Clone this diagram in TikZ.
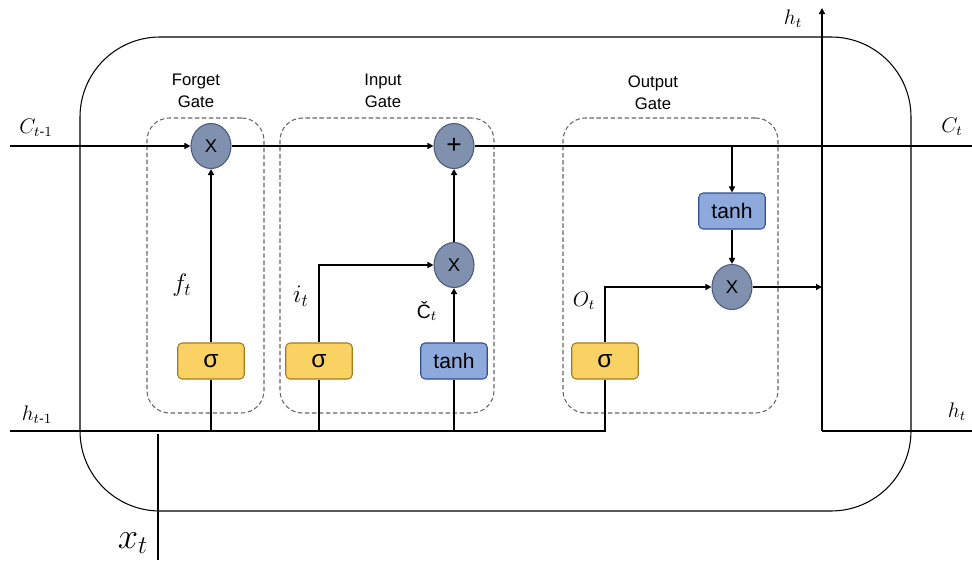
\documentclass[tikz,border=0pt]{standalone}
\usepackage{amsmath}
\usepackage{fontspec}
\setmainfont{Liberation Sans}
\usepackage{tikz}
\usetikzlibrary{
    arrows.meta,
    shapes.geometric
}
\definecolor{sigmafill}{HTML}{FAD264}
\definecolor{sigmadraw}{HTML}{A07C1C}
\definecolor{tanhfill}{HTML}{8EA9DB}
\definecolor{tanhdraw}{HTML}{2F4F8F}
\definecolor{opfill}{HTML}{7F91AF}
\definecolor{opdraw}{HTML}{4A5A7A}
\tikzset{
    wire/.style = {
        line width = 0.9pt
    },
    line/.style = {
        wire,
        ->,
        > = {
            Triangle[length=1.2mm, width=1.2mm]
        }
    },
    % Dashed gate outline:
    gate box/.style = {
        draw = black!60,
        dash pattern = on 2.5pt off 1.5pt,
        rounded corners = 0.45cm,
        minimum height = 5.9cm,
        line width = 0.6pt
    },
    % Gate title:
    gate label/.style = {
        align = center,
        font = \fontsize{9.5}{12.5}\selectfont
    },
    % Neural layer:
    layer node/.style = {
        rectangle,
        rounded corners = 2.5pt,
        minimum width = 1.33cm,
        minimum height = 0.72cm,
        inner sep = 0pt,
        line width = 0.6pt
    },
    % Sigmoid layer:
    sigma node/.style = {
        layer node,
        draw = sigmadraw,
        fill = sigmafill,
        font = \fontsize{14}{14}\selectfont
    },
    % Tanh layer:
    tanh node/.style = {
        layer node,
        draw = tanhdraw,
        fill = tanhfill,
        font = \fontsize{12}{12}\selectfont
    },
    % Pointwise operation:
    op node/.style = {
        ellipse,
        draw = opdraw,
        fill = opfill,
        minimum width = 0.8cm,
        minimum height = 0.9cm,
        inner sep = 0pt,
        line width = 0.6pt,
        font = \fontsize{10.5}{10.5}\selectfont
    },
    % State label:
    state label/.style = {
        inner sep = 0pt,
        font = \fontsize{12}{14}\selectfont
    }
}

\begin{document}
\begin{tikzpicture}[x=0.2mm, y=-0.2mm]
    \useasboundingbox (0, 0) rectangle (972, 562);
    % cell outline
    \draw [line width=0.6pt, rounded corners=1.6cm] (80, 37) rectangle (911, 511);
    % gates
    \node [gate box, minimum width=2.34cm] (forget gate) at (205.5, 265.5) {};
    \node [gate box, minimum width=4.28cm] (input gate) at (387, 265.5) {};
    \node [gate box, minimum width=4.3cm] (output gate) at (670.5, 265.5) {};
    \node [gate label] (forget title) at (196, 91) {Forget\\Gate};
    \node [gate label] (input title) at (383, 91) {Input\\Gate};
    \node [gate label] (output title) at (653, 93) {Output\\Gate};
    % layers
    \node [sigma node] (forget sigma) at (211, 361) {σ};
    \node [sigma node] (input sigma) at (319, 361) {σ};
    \node [tanh node] (input tanh) at (454, 361) {tanh};
    \node [sigma node] (output sigma) at (605, 361) {σ};
    \node [tanh node] (output tanh) at (732, 211) {tanh};
    % pointwise operations
    \node [op node] (forget mult) at (211, 146) {X};
    \node [op node, font=\fontsize{15}{15}\selectfont] (cell add) at (454, 146) {+};
    \node [op node] (input mult) at (454, 265) {X};
    \node [op node] (output mult) at (732, 287) {X};
    % free ends
    \coordinate (c prev) at (10, 146);
    \coordinate (c next) at (972, 146);
    \coordinate (h prev) at (10, 431);
    \coordinate (h next) at (972, 431);
    \coordinate (h turn) at (822, 431);
    \coordinate (h top) at (822, 8);
    \coordinate (x in) at (158, 560);
    \coordinate (x top) at (158, 434);
    % cell state
    \draw [line] (c prev) -- (forget mult);
    \draw [line] (forget mult) -- (cell add);
    \draw [wire] (cell add) -- (c next);
    % hidden state and input
    \draw [wire] (h prev) -- (output sigma |- h prev) -- (output sigma);
    \draw [wire] (forget sigma |- h prev) -- (forget sigma);
    \draw [wire] (input sigma |- h prev) -- (input sigma);
    \draw [wire] (input tanh |- h prev) -- (input tanh);
    \draw [wire] (x in) -- (x top);
    % forget gate
    \draw [line] (forget sigma) -- (forget mult);
    % input gate
    \draw [line] (input sigma) |- (input mult);
    \draw [line] (input tanh) -- (input mult);
    \draw [line] (input mult) -- (cell add);
    % output gate
    \draw [line] (output sigma) |- (output mult);
    \draw [line] (output tanh |- c prev) -- (output tanh);
    \draw [line] (output tanh) -- (output mult);
    \draw [line] (output mult) -- (output mult -| h top);
    \draw [line] (h turn) -- (h top);
    \draw [wire] (h turn) -- (h next);
    % labels
    \node [state label] (c prev label) at (36, 128) {$C_{t\text{-}1}$};
    \node [state label] (c next label) at (952, 127) {$C_t$};
    \node [state label] (h prev label) at (37, 415) {$h_{t\text{-}1}$};
    \node [state label] (h next label) at (957, 412) {$h_t$};
    \node [state label] (h top label) at (793, 19) {$h_t$};
    \node [state label, font=\fontsize{20}{22}\selectfont] (x label) at (133, 543) {$x_t$};
    \node [state label, font=\fontsize{14}{16}\selectfont] (f label) at (182, 285) {$f_t$};
    \node [state label, font=\fontsize{14}{16}\selectfont] (i label) at (301, 296) {$i_t$};
    \node [state label, font=\fontsize{11}{13}\selectfont] (c tilde label) at (427, 311) {\v{C}$_t$};
    \node [state label] (o label) at (584, 301) {$O_t$};
\end{tikzpicture}
\end{document}
